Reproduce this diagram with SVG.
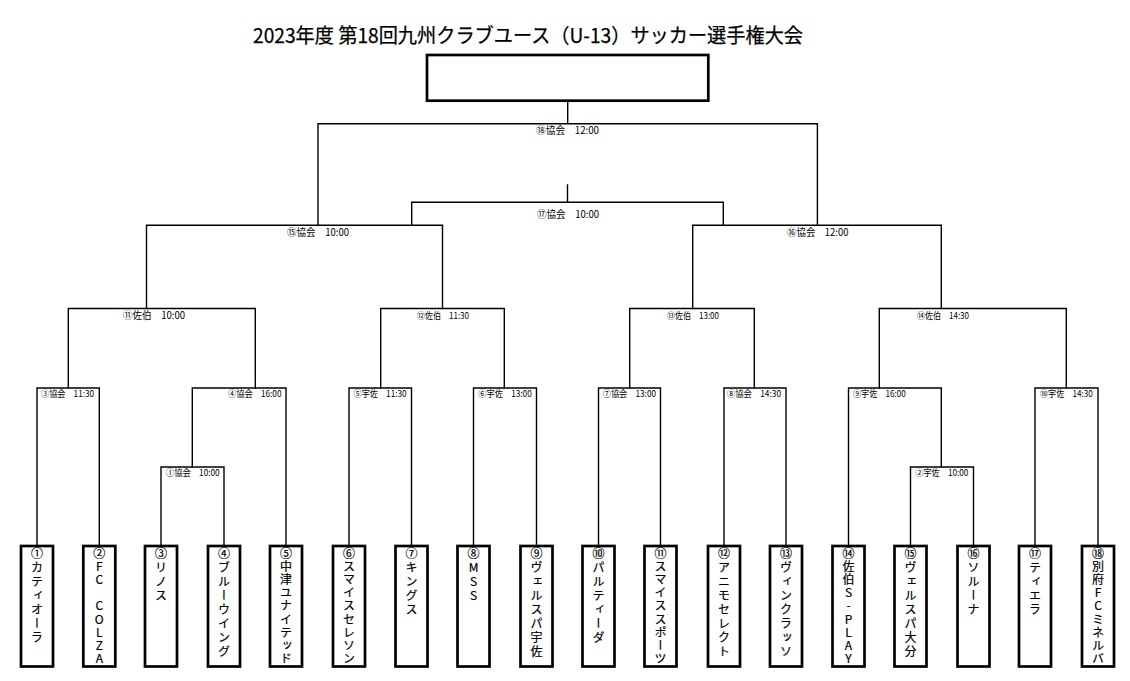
<svg xmlns="http://www.w3.org/2000/svg" width="1130" height="681" viewBox="0 0 1130 681">
<style>
.bg{fill:#fff}
.ln{fill:none;stroke:#000;stroke-width:1.4;stroke-linecap:square}
.box{fill:#fff;stroke:#000;stroke-width:2.7}
.title{font-family:"Noto Sans CJK JP","Noto Sans",sans-serif;font-size:20px;fill:#000;stroke:#000;stroke-width:0.25}
.lb{font-family:"Noto Sans CJK JP","Noto Sans",sans-serif;font-size:9px;fill:#000}
.lb2{font-family:"Noto Sans CJK JP","Noto Sans",sans-serif;font-size:10px;fill:#000}
.tm{font-family:"Noto Sans CJK JP","Noto Sans",sans-serif;font-size:12px;fill:#000;stroke:#000;stroke-width:0.2;writing-mode:vertical-rl;text-orientation:upright;letter-spacing:2px}
.tm9{letter-spacing:1.2px}
</style>
<rect class="bg" x="0" y="0" width="1130" height="681"/>
<text class="title" x="253" y="43" textLength="550" lengthAdjust="spacingAndGlyphs">2023年度 第18回九州クラブユース（U-13）サッカー選手権大会</text>

<g id="connectors">
<path class="ln" d="M567.7 101 V123.7 M318 225.3 V123.7 H817.4 V225.3"/>
<path class="ln" d="M567.5 185 V202.3 M411.7 225.3 V202.3 H723.3 V225.3"/>
<path class="ln" d="M146.5 308.5 V225.3 H442.5 V308.5"/>
<path class="ln" d="M692.7 308.5 V225.3 H941.3 V308.5"/>
<path class="ln" d="M68.3 388 V308.5 H255.3 V388"/>
<path class="ln" d="M380.7 388 V308.5 H504.3 V388"/>
<path class="ln" d="M629.7 388 V308.5 H754.3 V388"/>
<path class="ln" d="M879.3 388 V308.5 H1066.3 V388"/>
<path class="ln" d="M37 546 V388 H99.3 V546"/>
<path class="ln" d="M192.3 467 V388 H286 V546"/>
<path class="ln" d="M161 546 V467 H224 V546"/>
<path class="ln" d="M349 546 V388 H411.5 V546"/>
<path class="ln" d="M473.5 546 V388 H536.5 V546"/>
<path class="ln" d="M598.5 546 V388 H660.5 V546"/>
<path class="ln" d="M724 546 V388 H786 V546"/>
<path class="ln" d="M848.5 546 V388 H941.3 V467"/>
<path class="ln" d="M910.5 546 V467 H973.5 V546"/>
<path class="ln" d="M1035 546 V388 H1098 V546"/>
</g>

<g id="match-labels">
<text class="lb2" x="536" y="133.5" textLength="63" lengthAdjust="spacingAndGlyphs">⑱協会　12:00</text>
<text class="lb2" x="537" y="217.5" textLength="62" lengthAdjust="spacingAndGlyphs">⑰協会　10:00</text>
<text class="lb2" x="287" y="235.5" textLength="62" lengthAdjust="spacingAndGlyphs">⑮協会　10:00</text>
<text class="lb2" x="787" y="235.5" textLength="61.5" lengthAdjust="spacingAndGlyphs">⑯協会　12:00</text>
<text class="lb2" x="123" y="318.5" textLength="62" lengthAdjust="spacingAndGlyphs">⑪佐伯　10:00</text>
<text class="lb" x="417" y="318.5" textLength="52" lengthAdjust="spacingAndGlyphs">⑫佐伯　11:30</text>
<text class="lb" x="667" y="318.5" textLength="52" lengthAdjust="spacingAndGlyphs">⑬佐伯　13:00</text>
<text class="lb" x="917" y="318.5" textLength="52" lengthAdjust="spacingAndGlyphs">⑭佐伯　14:30</text>
<text class="lb" x="41" y="397.3" textLength="53" lengthAdjust="spacingAndGlyphs">③協会　11:30</text>
<text class="lb" x="228" y="397.3" textLength="53.5" lengthAdjust="spacingAndGlyphs">④協会　16:00</text>
<text class="lb" x="353.5" y="397.3" textLength="53" lengthAdjust="spacingAndGlyphs">⑤宇佐　11:30</text>
<text class="lb" x="478.3" y="397.3" textLength="53.4" lengthAdjust="spacingAndGlyphs">⑥宇佐　13:00</text>
<text class="lb" x="602.7" y="397.3" textLength="53.3" lengthAdjust="spacingAndGlyphs">⑦協会　13:00</text>
<text class="lb" x="727" y="397.3" textLength="54" lengthAdjust="spacingAndGlyphs">⑧協会　14:30</text>
<text class="lb" x="853" y="397.3" textLength="52.7" lengthAdjust="spacingAndGlyphs">⑨宇佐　16:00</text>
<text class="lb" x="1040" y="397.3" textLength="52.7" lengthAdjust="spacingAndGlyphs">⑩宇佐　14:30</text>
<text class="lb" x="166" y="476.3" textLength="53.7" lengthAdjust="spacingAndGlyphs">①協会　10:00</text>
<text class="lb" x="915.3" y="476.3" textLength="53" lengthAdjust="spacingAndGlyphs">②宇佐　10:00</text>
</g>

<g id="winner">
<rect class="box" x="427" y="55" width="281.3" height="45.7"/>
</g>

<g id="team-1"><rect class="box" x="21" y="546" width="32" height="120.5"/><text class="tm" x="37" y="547">①カティオーラ</text></g>
<g id="team-2"><rect class="box" x="83.3" y="546" width="32" height="120.5"/><text class="tm tm9" x="99.3" y="547">②FC　COLZA</text></g>
<g id="team-3"><rect class="box" x="145" y="546" width="32" height="120.5"/><text class="tm" x="161" y="547">③リノス</text></g>
<g id="team-4"><rect class="box" x="208" y="546" width="32" height="120.5"/><text class="tm" x="224" y="547">④ブルーウイング</text></g>
<g id="team-5"><rect class="box" x="270" y="546" width="32" height="120.5"/><text class="tm tm9" x="286" y="547">⑤中津ユナイテッド</text></g>
<g id="team-6"><rect class="box" x="333" y="546" width="32" height="120.5"/><text class="tm tm9" x="349" y="547">⑥スマイスセレソン</text></g>
<g id="team-7"><rect class="box" x="395.5" y="546" width="32" height="120.5"/><text class="tm" x="411.5" y="547">⑦キングス</text></g>
<g id="team-8"><rect class="box" x="457.5" y="546" width="32" height="120.5"/><text class="tm" x="473.5" y="547">⑧MSS</text></g>
<g id="team-9"><rect class="box" x="520.5" y="546" width="32" height="120.5"/><text class="tm" x="536.5" y="547">⑨ヴェルスパ宇佐</text></g>
<g id="team-10"><rect class="box" x="582.5" y="546" width="32" height="120.5"/><text class="tm" x="598.5" y="547">⑩パルティーダ</text></g>
<g id="team-11"><rect class="box" x="644.5" y="546" width="32" height="120.5"/><text class="tm tm9" x="660.5" y="547">⑪スマイススポーツ</text></g>
<g id="team-12"><rect class="box" x="708" y="546" width="32" height="120.5"/><text class="tm" x="724" y="547">⑫アニモセレクト</text></g>
<g id="team-13"><rect class="box" x="770" y="546" width="32" height="120.5"/><text class="tm" x="786" y="547">⑬ヴィンクラッソ</text></g>
<g id="team-14"><rect class="box" x="832.5" y="546" width="32" height="120.5"/><text class="tm tm9" x="848.5" y="547">⑭佐伯S-PLAY</text></g>
<g id="team-15"><rect class="box" x="894.5" y="546" width="32" height="120.5"/><text class="tm" x="910.5" y="547">⑮ヴェルスパ大分</text></g>
<g id="team-16"><rect class="box" x="957.5" y="546" width="32" height="120.5"/><text class="tm" x="973.5" y="547">⑯ソルーナ</text></g>
<g id="team-17"><rect class="box" x="1019" y="546" width="32" height="120.5"/><text class="tm" x="1035" y="547">⑰ティエラ</text></g>
<g id="team-18"><rect class="box" x="1082" y="546" width="32" height="120.5"/><text class="tm tm9" x="1098" y="547">⑱別府FCミネルバ</text></g>
</svg>
